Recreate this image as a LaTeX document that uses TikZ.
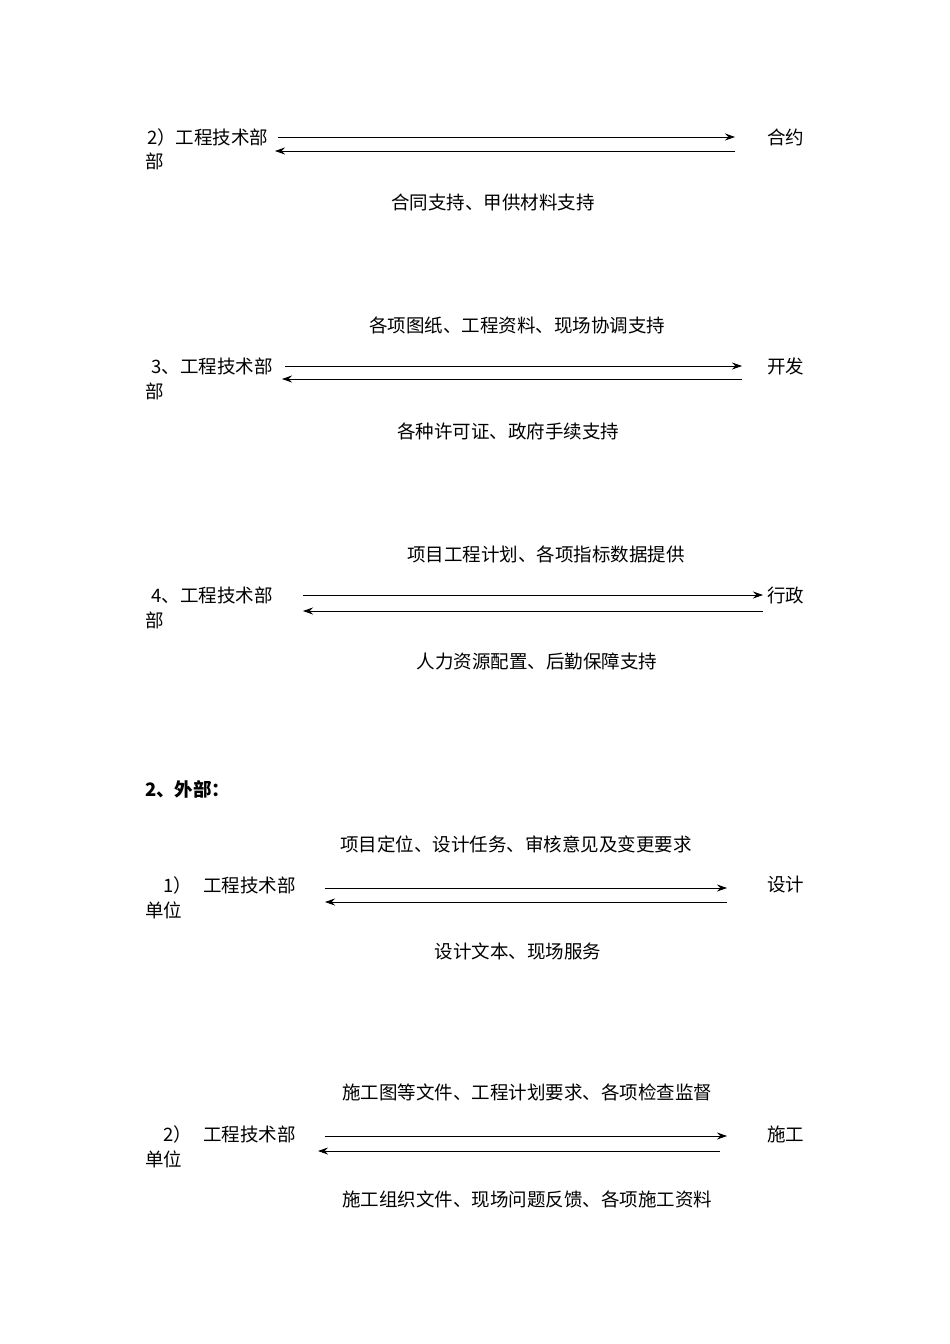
\documentclass[tikz,border=0pt]{standalone}
\usepackage{fontspec}
\setmainfont{Noto Sans CJK SC}
\usetikzlibrary{arrows.meta}
\begin{document}
\begin{tikzpicture}[x=1pt,y=-1pt,
  lbl/.style={inner sep=0pt,font=\fontsize{18.5}{20}\selectfont},
  lft/.style={lbl,anchor=west},
  arr/.style={-{Stealth[length=10pt,width=7pt]},line width=0.8pt}]
\useasboundingbox[fill=white] (0,0) rectangle (950,1344);
% 1
\node[lft] (a1) at (147,137) {2）工程技术部};
\node[lft] (a1b) at (145,161) {部};
\node[lft] (b1) at (767,137) {合约};
\coordinate (p1) at (278,137); \coordinate (q1) at (735,137);
\coordinate (p1b) at (275,151); \coordinate (q1b) at (735,151);
\draw[arr] (p1) -- (q1); \draw[arr] (q1b) -- (p1b);
\node[lbl] (t1) at (493,202) {合同支持、甲供材料支持};
% 2
\node[lbl] (t2a) at (517,325) {各项图纸、工程资料、现场协调支持};
\node[lft] (a2) at (147,366) {\ 3、工程技术部};
\node[lft] (a2b) at (145,391) {部};
\node[lft] (b2) at (767,366) {开发};
\coordinate (p2) at (285,366); \coordinate (q2) at (742,366);
\coordinate (p2b) at (282,379); \coordinate (q2b) at (742,379);
\draw[arr] (p2) -- (q2); \draw[arr] (q2b) -- (p2b);
\node[lbl] (t2b) at (508,431) {各种许可证、政府手续支持};
% 3
\node[lbl] (t3a) at (546,554) {项目工程计划、各项指标数据提供};
\node[lft] (a3) at (147,595) {\ 4、工程技术部};
\node[lft] (a3b) at (145,620) {部};
\node[lft] (b3) at (767,595) {行政};
\coordinate (p3) at (303,595); \coordinate (q3) at (763,595);
\coordinate (p3b) at (303,611); \coordinate (q3b) at (763,611);
\draw[arr] (p3) -- (q3); \draw[arr] (q3b) -- (p3b);
\node[lbl] (t3b) at (537,661) {人力资源配置、后勤保障支持};
% heading
\node[lft,font=\fontsize{18.5}{20}\selectfont\bfseries] (h) at (145,789) {2、外部：};
% 4
\node[lbl] (t4a) at (516,844) {项目定位、设计任务、审核意见及变更要求};
\node[lft] (a4) at (163,885) {1）};
\node[lft] (a4c) at (203,885) {工程技术部};
\node[lft] (a4b) at (145,910) {单位};
\node[lft] (b4) at (767,885) {设计};
\coordinate (p4) at (325,888); \coordinate (q4) at (727,888);
\coordinate (p4b) at (325,902); \coordinate (q4b) at (727,902);
\draw[arr] (p4) -- (q4); \draw[arr] (q4b) -- (p4b);
\node[lbl] (t4b) at (518,951) {设计文本、现场服务};
% 5
\node[lbl] (t5a) at (527,1092) {施工图等文件、工程计划要求、各项检查监督};
\node[lft] (a5) at (163,1134) {2）};
\node[lft] (a5c) at (203,1134) {工程技术部};
\node[lft] (a5b) at (145,1159) {单位};
\node[lft] (b5) at (767,1134) {施工};
\coordinate (p5) at (325,1136); \coordinate (q5) at (727,1136);
\coordinate (p5b) at (318,1151); \coordinate (q5b) at (720,1151);
\draw[arr] (p5) -- (q5); \draw[arr] (q5b) -- (p5b);
\node[lbl] (t5b) at (527,1199) {施工组织文件、现场问题反馈、各项施工资料};
\end{tikzpicture}
\end{document}
